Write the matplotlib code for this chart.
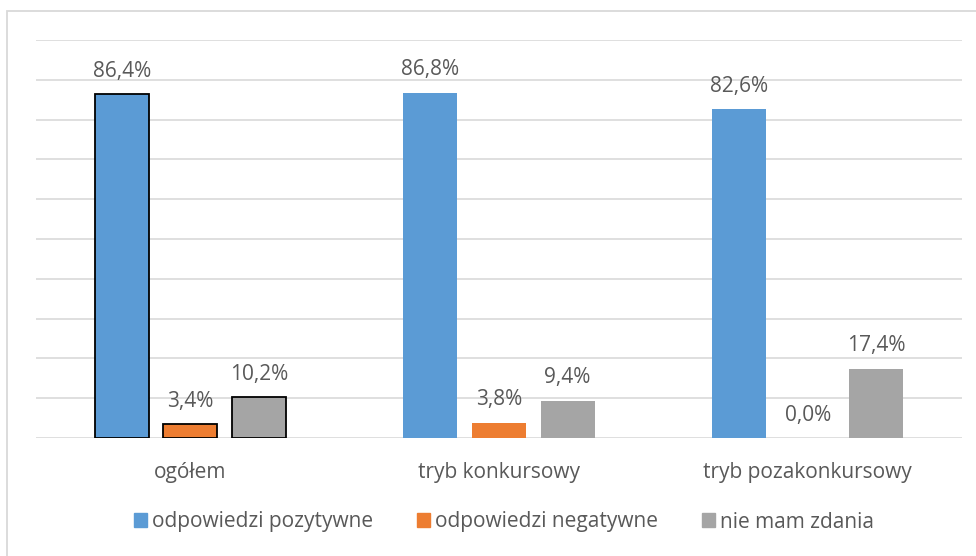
import numpy as np
import matplotlib.pyplot as plt
from matplotlib.patches import Patch, Rectangle

categories = ['ogółem', 'tryb konkursowy', 'tryb pozakonkursowy']
series_names = ['odpowiedzi pozytywne', 'odpowiedzi negatywne', 'nie mam zdania']
positive = [86.4, 86.8, 82.6]
negative = [3.4, 3.8, 0.0]
no_opinion = [10.2, 9.4, 17.4]
colors = ['#5B9BD5', '#ED7D31', '#A5A5A5']

plt.rcParams['font.family'] = ['Open Sans', 'DejaVu Sans']
text_color = '#595959'
grid_color = '#D9D9D9'

W, H = 976, 556
fig = plt.figure(figsize=(W / 100, H / 100), dpi=100)
ax = fig.add_axes([36 / W, (H - 438) / H, (962 - 36) / W, (438 - 40) / H])

x = np.arange(len(categories))
width = 0.175
step = 0.222
all_series = [positive, negative, no_opinion]
for i, (vals, col) in enumerate(zip(all_series, colors)):
    pos = x + (i - 1) * step
    bars = ax.bar(pos, vals, width, color=col, zorder=3)
    # first group has black outlines
    bars[0].set_edgecolor('black')
    bars[0].set_linewidth(1.3)
    for xp, v in zip(pos, vals):
        ax.annotate(f'{v:.1f}%'.replace('.', ','), (xp, v), xytext=(0, 9),
                    textcoords='offset points', ha='center', va='bottom',
                    fontsize=15, color=text_color)

ax.set_xlim(-0.5, len(categories) - 0.5)
ax.set_ylim(0, 100)
ax.set_yticks(np.arange(0, 101, 10))
ax.set_yticklabels([])
ax.tick_params(axis='y', length=0)
ax.tick_params(axis='x', length=0, pad=17, labelsize=15, labelcolor=text_color)
ax.set_xticks(x)
ax.set_xticklabels(categories)
ax.grid(axis='y', color=grid_color, lw=1.2, zorder=0)
for s in ax.spines.values():
    s.set_visible(False)

handles = [Patch(color=c) for c in colors]
fig.legend(handles, series_names, loc='center', bbox_to_anchor=(504 / W, 1 - 522 / H),
           ncol=3, frameon=False, fontsize=15, labelcolor=text_color,
           handlelength=0.62, handleheight=0.62, handletextpad=0.25,
           columnspacing=2.1)

fig.patches.append(Rectangle((7 / W, -0.1), 1.2, 1.1 - 11 / H, transform=fig.transFigure,
                             fill=False, edgecolor=grid_color, lw=1.3))

fig.savefig('out.png', dpi=100)
